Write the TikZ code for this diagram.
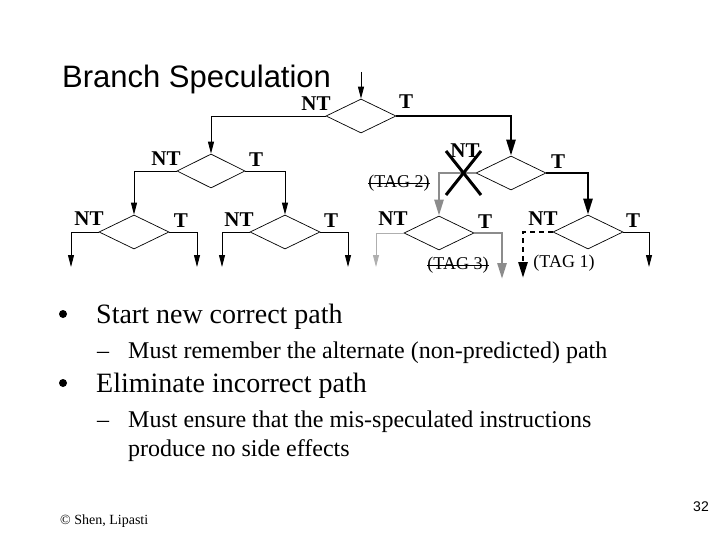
\documentclass[tikz,border=0pt]{standalone}
\usepackage{fontspec}
\setmainfont{Liberation Serif}
\newfontfamily\arialf{Liberation Sans}
\usetikzlibrary{shapes.geometric,arrows.meta}
\definecolor{midgray}{RGB}{140,140,140}
\definecolor{lightgray}{RGB}{175,175,175}
\begin{document}
\begin{tikzpicture}[x=1pt,y=-1pt,
  dia/.style={diamond,draw,line width=0.7pt,minimum width=70pt,minimum height=34pt,inner sep=0pt},
  thinln/.style={line width=0.9pt,-{Triangle[length=12pt,width=6pt]}},
  thickln/.style={line width=2.6pt,-{Triangle[length=16pt,width=9pt]}},
  grayln/.style={thickln,color=midgray},
  lbl/.style={font=\fontsize{21}{21}\selectfont\bfseries,inner sep=0pt},
  tag/.style={font=\fontsize{18}{18}\selectfont,inner sep=0pt},
  strike/.style={line width=0.8pt},
  cross/.style={line width=3pt},
  bigtxt/.style={font=\fontsize{28}{28}\selectfont,anchor=base west,inner sep=0pt},
  subtxt/.style={font=\fontsize{24}{24}\selectfont,anchor=base west,inner sep=0pt},
  bul/.style={circle,fill,minimum size=8pt,inner sep=0pt}]
\useasboundingbox (0,0) rectangle (720,540);

% title
\node[font=\arialf\fontsize{31}{31}\selectfont,anchor=base west,inner sep=0pt] (title) at (62,88) {Branch Speculation};

% diamonds
\node[dia] (d0) at (361,116) {};
\node[dia,minimum width=68pt] (d1) at (211,171) {};
\node[dia] (d2) at (511,173) {};
\node[dia] (d3) at (134,232) {};
\node[dia] (d4) at (285,232) {};
\node[dia] (d5) at (439,233) {};
\node[dia] (d6) at (588,232) {};

% free ends
\coordinate (in) at (361,72);
\coordinate (e3l) at (71,267);
\coordinate (e3r) at (197,267);
\coordinate (e4l) at (222,267);
\coordinate (e4r) at (348,267);
\coordinate (e5l) at (376,267);
\coordinate (e5r) at (502,279);
\coordinate (e6l) at (523,278);
\coordinate (e6r) at (649,267);

% connectors
\draw[thinln] (in) -- (d0.north);
\draw[thinln] (d0.west) -| (d1.north);
\draw[thickln] (d0.east) -| (d2.north);
\draw[thinln] (d1.west) -| (d3.north);
\draw[thinln] (d1.east) -| (d4.north);
\draw[grayln] (d2.west) -| (d5.north);
\draw[thickln] (d2.east) -| (d6.north);
\draw[thinln] (d3.west) -| (e3l);
\draw[thinln] (d3.east) -| (e3r);
\draw[thinln] (d4.west) -| (e4l);
\draw[thinln] (d4.east) -| (e4r);
\draw[thinln,color=lightgray] (d5.west) -| (e5l);
\draw[grayln] (d5.east) -| (e5r);
\draw[thickln,dash pattern=on 5pt off 4pt] (d6.west) -| (e6l);
\draw[thinln] (d6.east) -| (e6r);

% cross
\coordinate (x1) at (446,151);
\coordinate (x2) at (481,195);
\coordinate (x3) at (481,151);
\coordinate (x4) at (446,195);
\draw[cross] (x1) -- (x2);
\draw[cross] (x3) -- (x4);

% branch labels
\node[lbl] (l0n) at (316,104) {NT};
\node[lbl] (l0t) at (406,102) {T};
\node[lbl] (l1n) at (166,159) {NT};
\node[lbl] (l1t) at (256,160) {T};
\node[lbl] (l2n) at (465,151) {NT};
\node[lbl] (l2t) at (558,162) {T};
\node[lbl] (l3n) at (89,219) {NT};
\node[lbl] (l3t) at (181,221) {T};
\node[lbl] (l4n) at (239,220) {NT};
\node[lbl] (l4t) at (331,221) {T};
\node[lbl] (l5n) at (393,219) {NT};
\node[lbl] (l5t) at (485,222) {T};
\node[lbl] (l6n) at (543,219) {NT};
\node[lbl] (l6t) at (633,221) {T};

% tags
\node[tag] (tag2) at (399,183) {(TAG 2)};
\draw[strike] (tag2.west) -- (tag2.east);
\node[tag] (tag3) at (458,265) {(TAG 3)};
\draw[strike] (tag3.west) -- (tag3.east);
\node[tag] (tag1) at (564,263) {(TAG 1)};

% bullets
\node[bul] (b1) at (63,314) {};
\node[bigtxt] (t1) at (96,323) {Start new correct path};
\node[subtxt] (s1d) at (97,358) {--};
\node[subtxt] (s1) at (128,358) {Must remember the alternate (non-predicted) path};
\node[bul] (b2) at (63,383) {};
\node[bigtxt] (t2) at (96,392) {Eliminate incorrect path};
\node[subtxt] (s2d) at (97,427) {--};
\node[subtxt] (s2) at (128,427) {Must ensure that the mis-speculated instructions};
\node[subtxt] (s2b) at (128,456) {produce no side effects};

% footer
\node[font=\fontsize{14}{14}\selectfont,anchor=base west,inner sep=0pt] (foot) at (60,524) {\textcopyright{} Shen, Lipasti};
\node[font=\arialf\fontsize{14}{14}\selectfont,anchor=base east,inner sep=0pt] (pnum) at (709,511) {32};
\end{tikzpicture}
\end{document}
